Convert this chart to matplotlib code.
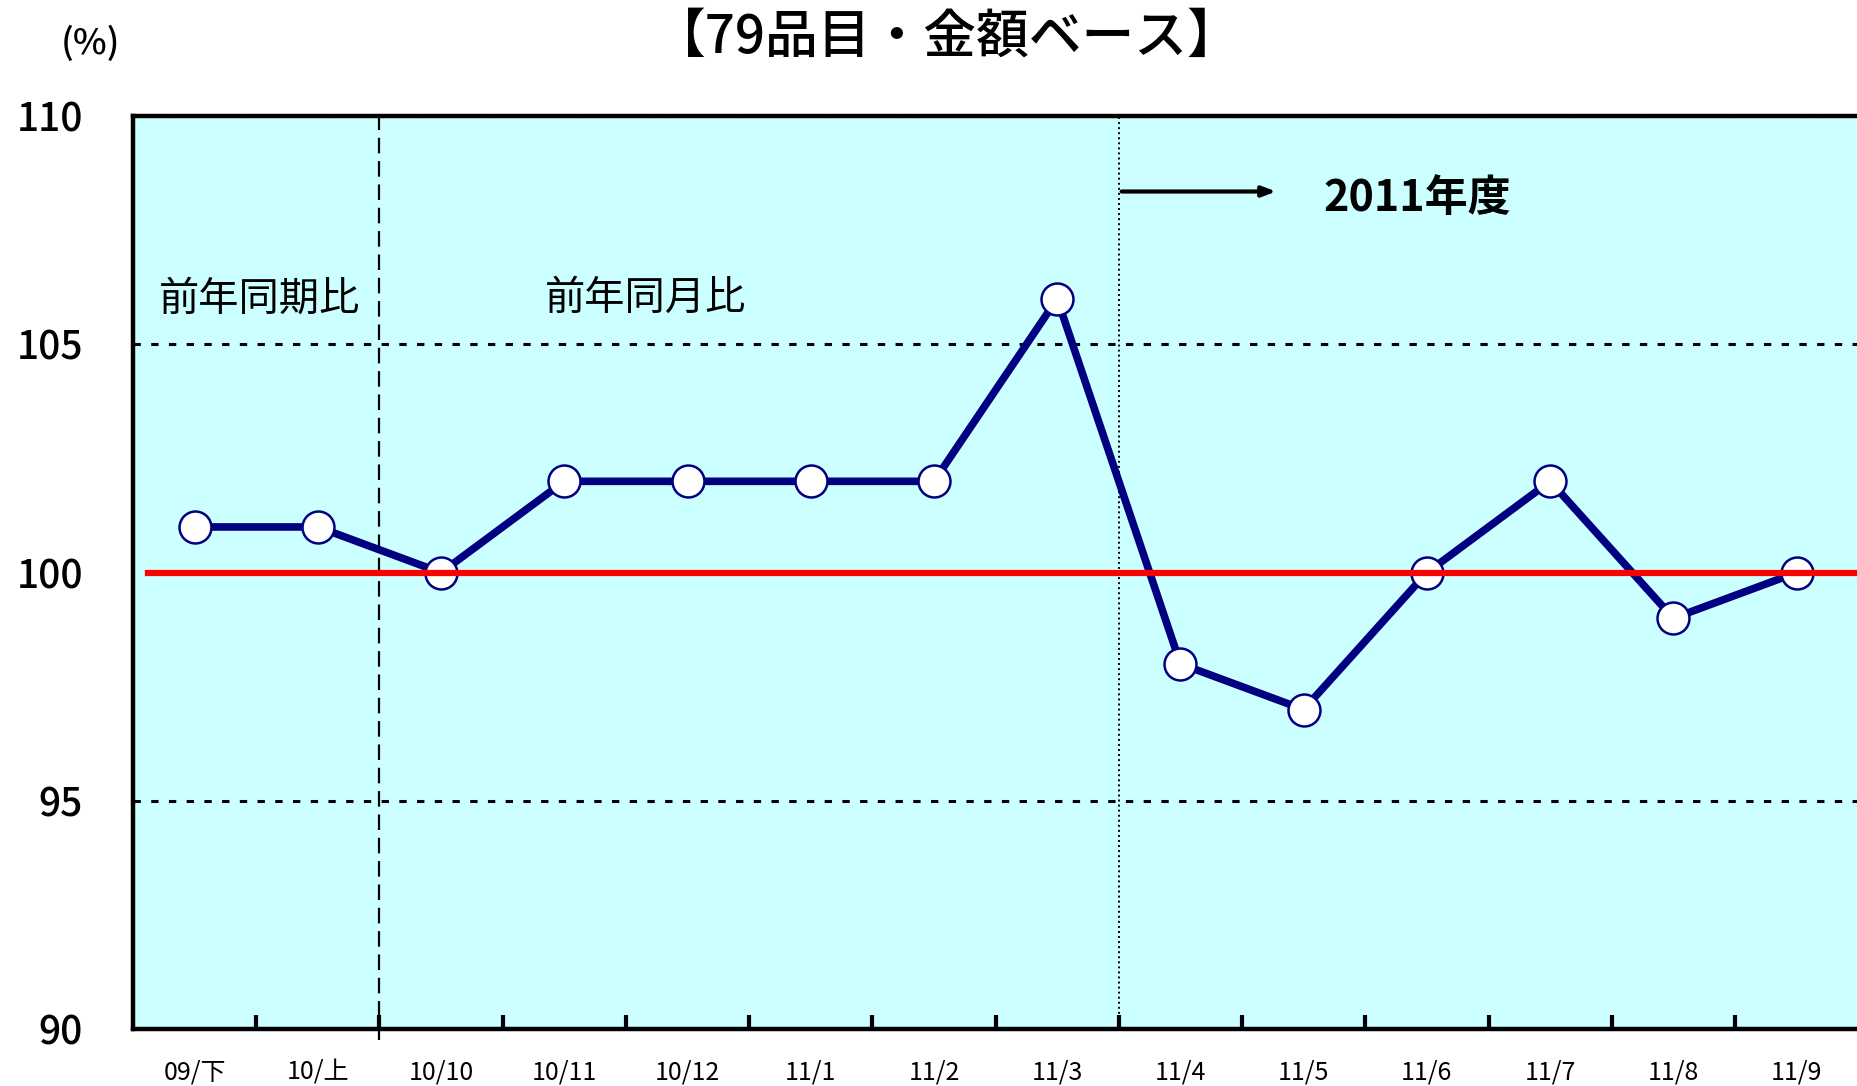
import numpy as np
import matplotlib
matplotlib.use("Agg")
import matplotlib.pyplot as plt

plt.rcParams['font.family'] = ['Noto Sans CJK JP', 'DejaVu Sans']

# データ
labels = ["09/下", "10/上", "10/10", "10/11", "10/12", "11/1", "11/2",
          "11/3", "11/4", "11/5", "11/6", "11/7", "11/8", "11/9"]
values = [101, 101, 100, 102, 102, 102, 102, 106, 98, 97, 100, 102, 99, 100]
yticks = [90, 95, 100, 105, 110]

fig = plt.figure(figsize=(18.57, 10.86), dpi=100)
ax = fig.add_axes([0.0716, 0.0525, 0.9284, 0.8405])
ax.set_facecolor("#CCFFFF")

x = np.arange(len(labels))
ax.set_xlim(-0.5, 13.49)
ax.set_ylim(90, 110)

# 補助線
for yv in [95, 105, 110]:
    ax.axhline(yv, color="black", lw=2.2, ls=(0, (2.4, 3.4)), zorder=1)
ax.plot([1.5, 1.5], [89.75, 110], color="black", lw=1.6, ls=(0, (7, 3.5)),
        clip_on=False, zorder=1)
ax.axvline(7.5, color="black", lw=1.4, ls=(0, (1, 1.6)), zorder=1)

# 系列
ax.plot(x, values, color="#000080", lw=5.5, marker="o", ms=23,
        mfc="white", mec="#000080", mew=1.8, zorder=3)
ax.plot([-0.38, 13.49], [100, 100], color="red", lw=4.5, zorder=4)

# 注記
ax.annotate("", xy=(8.8, 108.35), xytext=(7.5, 108.35),
            arrowprops=dict(arrowstyle="-|>,head_length=0.8,head_width=0.3",
                            color="black", lw=3))
ax.text(9.92, 108.2, "2011年度", ha="center", va="center", fontsize=31,
        fontweight="bold")
ax.text(-0.29, 106.0, "前年同期比", ha="left", va="center", fontsize=29)
ax.text(2.84, 106.0, "前年同月比", ha="left", va="center", fontsize=29)

# 軸
ax.set_xticks(x)
ax.set_xticklabels(labels, fontsize=18)
ax.set_xticks(np.arange(0.5, 13.5, 1), minor=True)
ax.tick_params(axis="x", which="major", length=0, pad=22)
ax.tick_params(axis="x", which="minor", direction="in", length=10, width=3)
ax.set_yticks(yticks)
ax.set_yticklabels([str(v) for v in yticks], fontsize=28, fontweight="medium")
ax.tick_params(axis="y", length=0, pad=36)

for s in ["left", "bottom", "top"]:
    ax.spines[s].set_linewidth(3.2)
ax.spines["right"].set_visible(False)

fig.text(0.51, 0.965, "【79品目・金額ベース】", ha="center", va="center",
         fontsize=38, fontweight="medium")
fig.text(0.049, 0.96, "(%)", ha="center", va="center", fontsize=26,
         fontweight="medium")

fig.savefig("out.png", dpi=100)
